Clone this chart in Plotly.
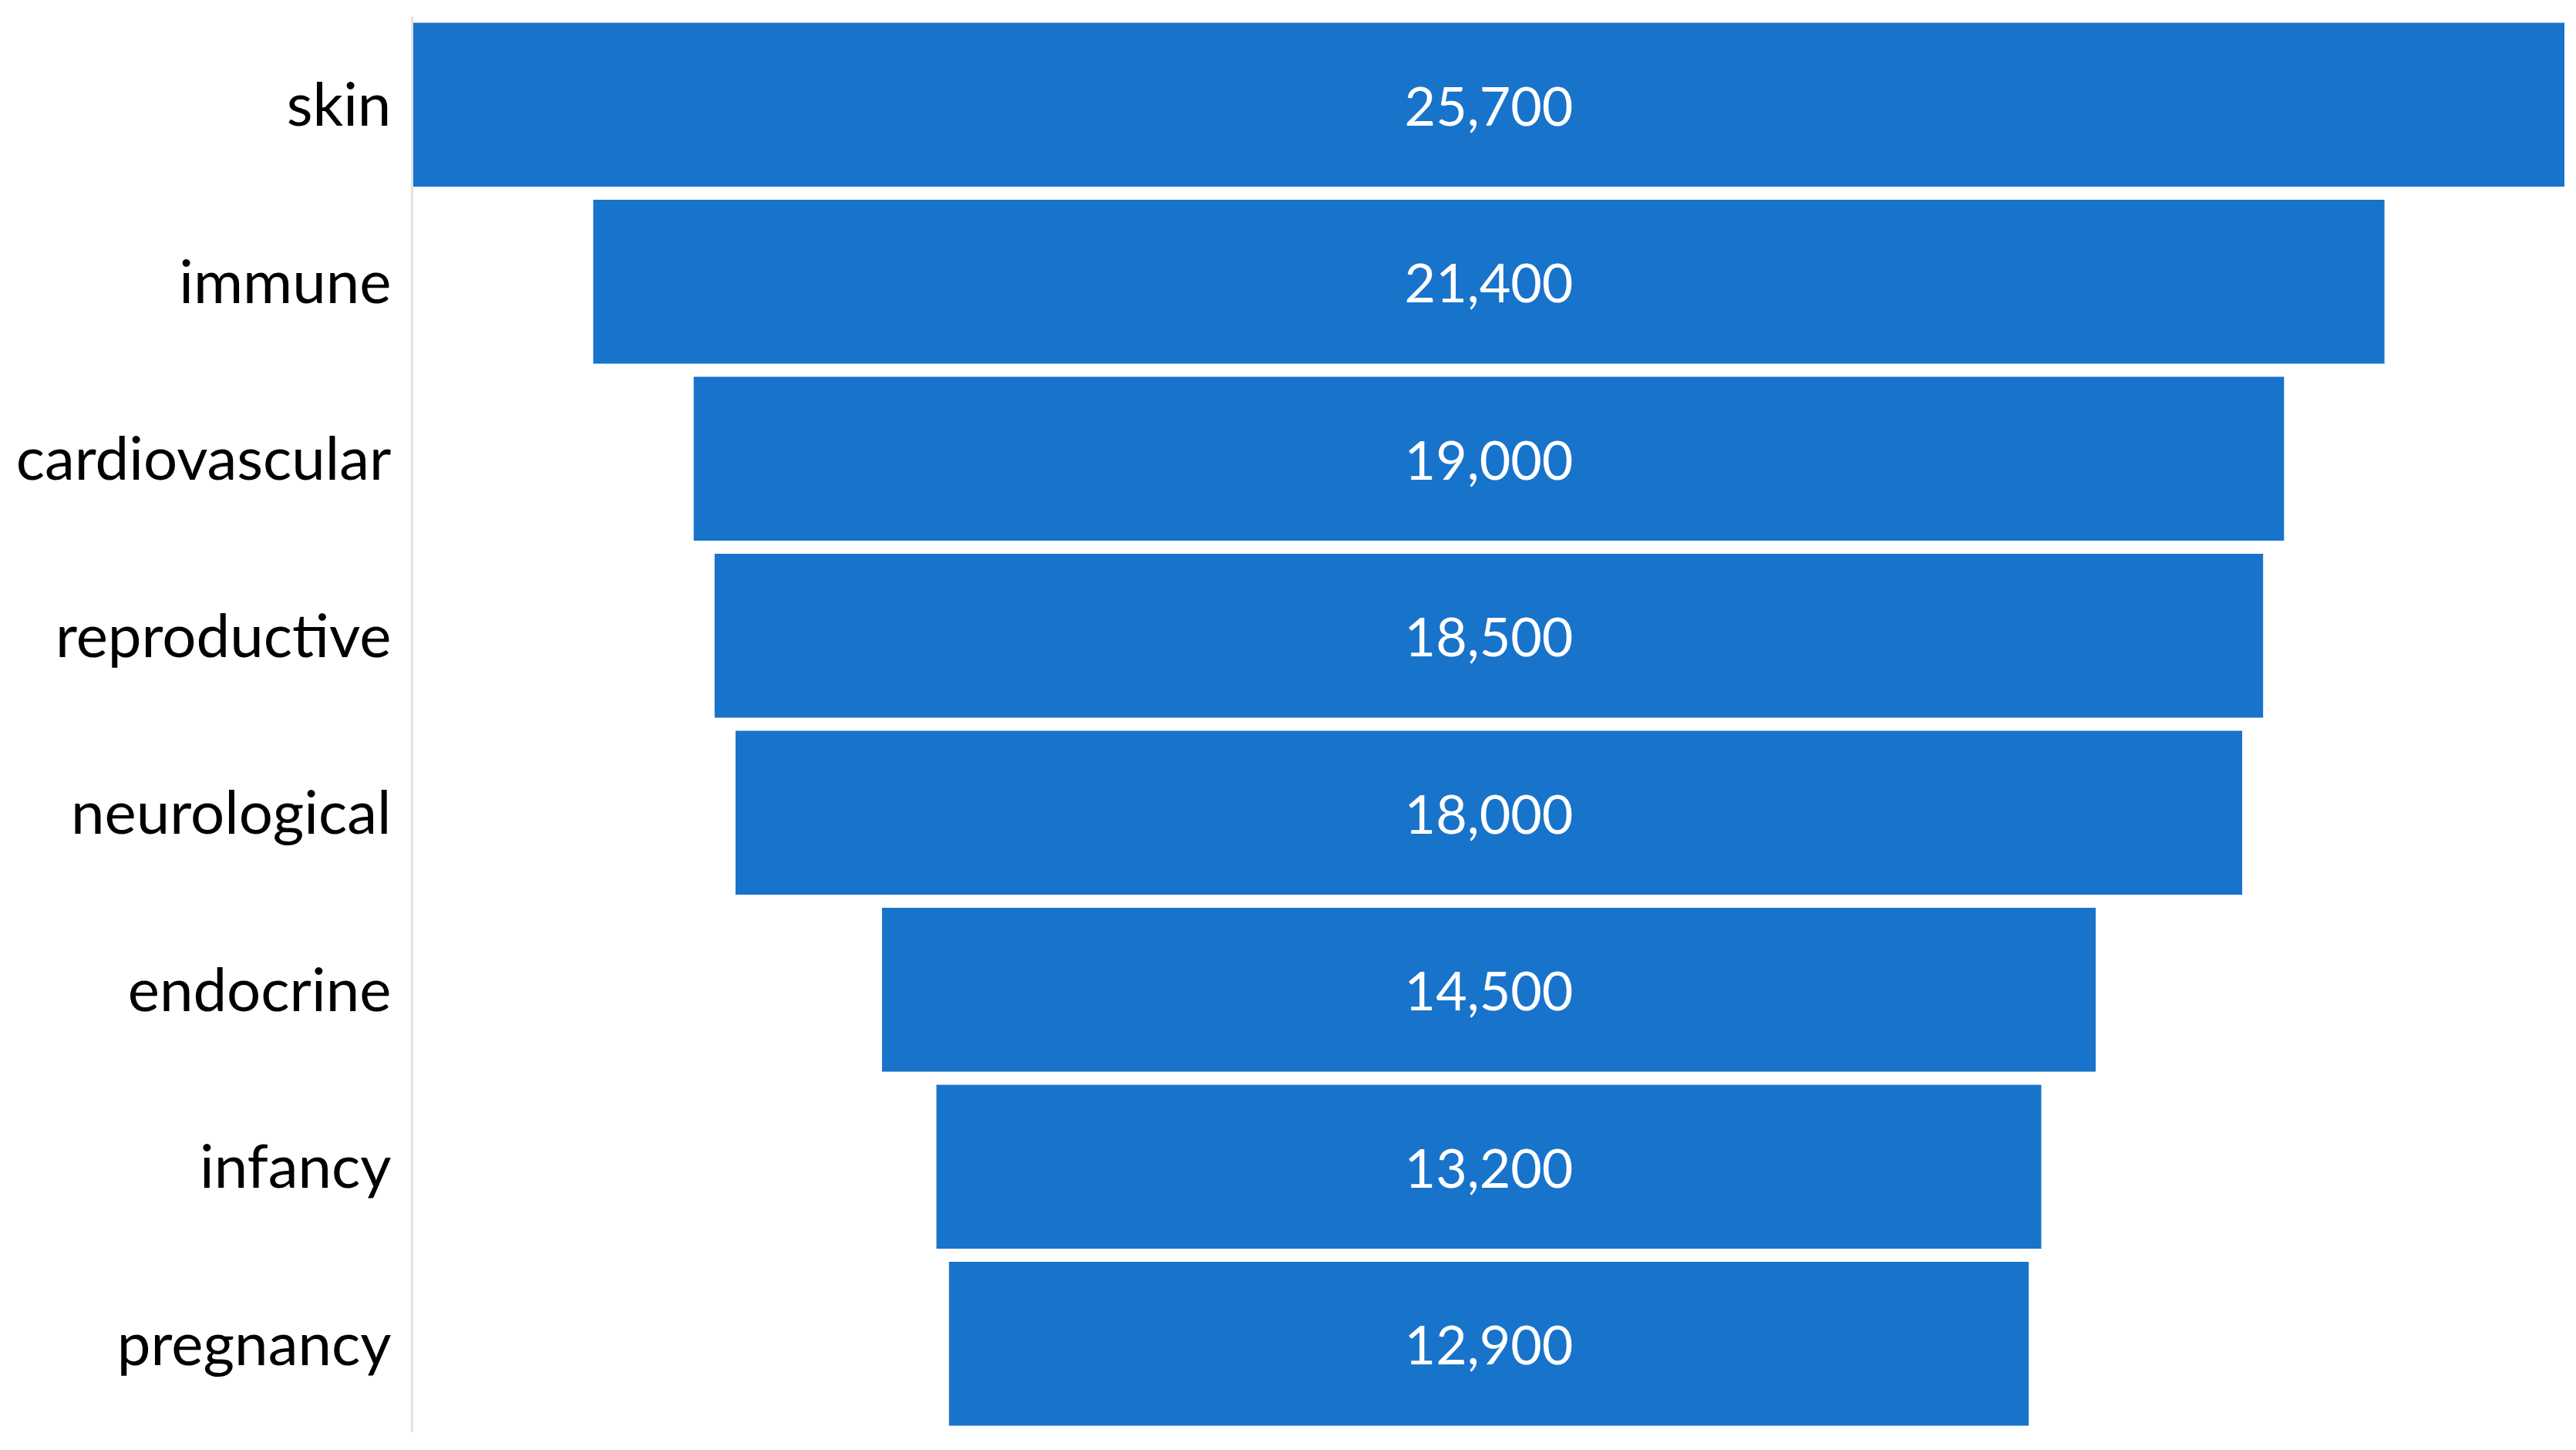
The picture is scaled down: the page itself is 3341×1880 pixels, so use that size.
import plotly.graph_objects as go

categories = ["skin", "immune", "cardiovascular", "reproductive",
              "neurological", "endocrine", "infancy", "pregnancy"]
counts = [25700, 21400, 19000, 18500, 18000, 14500, 13200, 12900]

bar_color = "#1873CB"
font_name = "Lato, 'Open Sans', sans-serif"

fig = go.Figure(go.Funnel(
    y=categories,
    x=counts,
    texttemplate="%{x:,}",
    textposition="inside",
    insidetextanchor="middle",
    textfont=dict(color="white", size=70, family=font_name),
    marker=dict(color=bar_color, line=dict(width=0)),
    connector=dict(visible=False),
))

half = max(counts) / 2
fig.update_layout(
    width=3341,
    height=1880,
    margin=dict(l=528, r=23, t=13, b=31),
    paper_bgcolor="white",
    plot_bgcolor="white",
    funnelgap=0.075,
    showlegend=False,
    font=dict(family=font_name, color="black"),
    xaxis=dict(visible=False, range=[-half, half]),
    yaxis=dict(
        showline=True,
        linecolor="#e3e3e3",
        linewidth=3,
        showgrid=False,
        ticks="",
        ticklabelstandoff=10,
        tickfont=dict(size=78, color="black", family=font_name),
    ),
)

fig.write_html("out.html")
